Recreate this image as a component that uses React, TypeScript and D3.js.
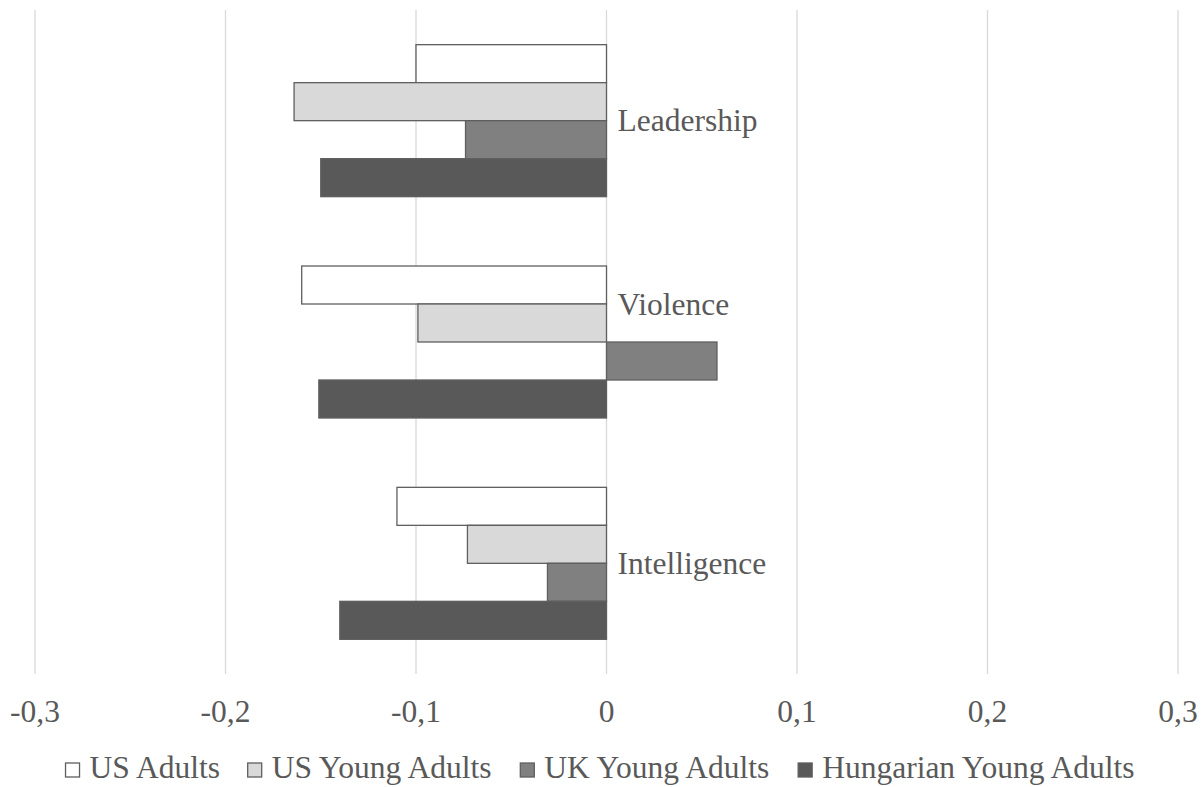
import React from "react";
import * as d3 from "d3";

// Categories (top to bottom) and series
const categories = ["Leadership", "Violence", "Intelligence"];
const seriesNames = ["US Adults", "US Young Adults", "UK Young Adults", "Hungarian Young Adults"];

// Values per category, in the order of `categories`
const usAdults = [-0.1, -0.16, -0.11];
const usYoungAdults = [-0.164, -0.099, -0.073];
const ukYoungAdults = [-0.074, 0.058, -0.031];
const hungarianYoungAdults = [-0.15, -0.151, -0.14];

const tickValues = [-0.3, -0.2, -0.1, 0, 0.1, 0.2, 0.3];

const seriesValues = [usAdults, usYoungAdults, ukYoungAdults, hungarianYoungAdults];
const seriesFill = ["#ffffff", "#d9d9d9", "#808080", "#595959"];

const W = 1203;
const H = 787;
const FONT = '"Liberation Serif", "Times New Roman", Times, "DejaVu Serif", serif';
const TEXT = "#595959";
const FONT_SIZE = 31.5;

// Vertical nudge of category labels, in bar heights
const labelShift: Record<string, number> = { Leadership: 0, Violence: -1, Intelligence: 0 };

function measure(text: string): number {
  const c = document.createElement("canvas").getContext("2d");
  if (!c) return text.length * FONT_SIZE * 0.45;
  c.font = `${FONT_SIZE}px "Liberation Serif", serif`;
  return c.measureText(text).width;
}

const textStyle: React.CSSProperties = { fontFamily: FONT, fontSize: FONT_SIZE };

export default function App() {
  const x = d3.scaleLinear().domain([-0.3, 0.3]).range([35, 1178]);
  const y = d3.scaleBand<string>().domain(categories).range([10, 674]).paddingInner(0).paddingOuter(0);
  const step = y.step();
  const gapWidth = 1.825;
  const barH = step / (seriesNames.length + gapWidth);
  const groupH = barH * seriesNames.length;
  const inner = d3.scaleBand<number>().domain(d3.range(seriesNames.length)).range([0, groupH]);

  const fmt = (v: number) => (v === 0 ? "0" : d3.format(".1f")(v).replace(".", ",").replace("−", "-"));

  // Legend layout
  const sq = 14;
  const sqGap = 10;
  const itemGap = 26;
  const widths = seriesNames.map(measure);
  const total = d3.sum(widths) + seriesNames.length * (sq + sqGap) + (seriesNames.length - 1) * itemGap;
  let lx = x(0) - 5 - total / 2;
  const legendItems = seriesNames.map((name, i) => {
    const item = { name, i, x: lx };
    lx += sq + sqGap + widths[i] + itemGap;
    return item;
  });

  return (
    <svg
      width={W}
      height={H}
      style={{ position: "absolute", left: 0, top: 0, background: "#fff" }}
    >
      <rect width={W} height={H} fill="#fff" />
      {/* vertical gridlines */}
      {tickValues.map((t) => (
        <line key={t} x1={x(t)} x2={x(t)} y1={10} y2={674} stroke="#d9d9d9" strokeWidth={1.3} />
      ))}
      {/* bars */}
      {categories.map((cat, ci) => {
        const y0 = (y(cat) as number) + (step - groupH) / 2;
        return (
          <g key={cat}>
            {seriesValues.map((vals, si) => {
              const v = vals[ci];
              const x0 = x(Math.min(0, v));
              const x1 = x(Math.max(0, v));
              return (
                <rect
                  key={si}
                  x={x0}
                  y={y0 + (inner(si) as number)}
                  width={x1 - x0}
                  height={barH}
                  fill={seriesFill[si]}
                  stroke="#5f5f5f"
                  strokeWidth={1.3}
                />
              );
            })}
          </g>
        );
      })}
      {/* category labels */}
      {categories.map((cat) => (
        <text
          key={cat}
          x={x(0) + 11}
          y={(y(cat) as number) + step / 2 + labelShift[cat] * barH + 10.5}
          style={textStyle}
          fill={TEXT}
        >
          {cat}
        </text>
      ))}
      {/* x tick labels */}
      {tickValues.map((t) => (
        <text key={t} x={x(t)} y={722} textAnchor="middle" style={textStyle} fill={TEXT}>
          {fmt(t)}
        </text>
      ))}
      {/* legend */}
      {legendItems.map((it) => (
        <g key={it.name}>
          <rect
            x={it.x}
            y={763}
            width={sq}
            height={sq}
            fill={seriesFill[it.i]}
            stroke="#5f5f5f"
            strokeWidth={1.3}
          />
          <text x={it.x + sq + sqGap} y={778} style={textStyle} fill={TEXT}>
            {it.name}
          </text>
        </g>
      ))}
    </svg>
  );
}
